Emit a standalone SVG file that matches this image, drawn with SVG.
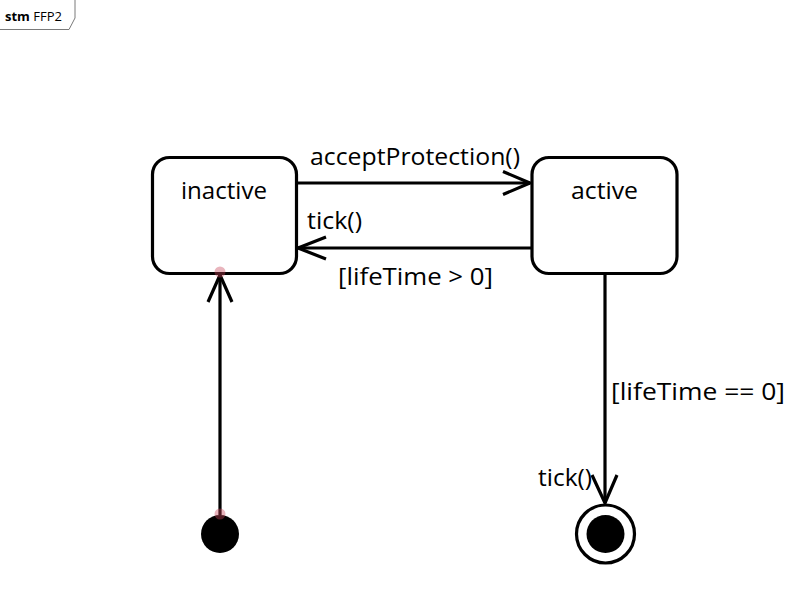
<svg xmlns="http://www.w3.org/2000/svg" width="799" height="599" viewBox="0 0 799 599">
<style>
.lbl{font-family:"Open Sans","Noto Sans","DejaVu Sans",sans-serif;font-size:24px;fill:#000}
.state{fill:#fff;stroke:#000;stroke-width:3.2}
.edge{fill:none;stroke:#000;stroke-width:3.2}
.dot{fill:rgb(200,70,90);fill-opacity:0.4}
</style>
<rect width="799" height="599" fill="#fff"/>
<g id="frame">
<path d="M0,29.5 L69,29.5 L75,18 L75,0" fill="none" stroke="#7a7a7a" stroke-width="1"/>
<text x="5" y="21" font-family="'Open Sans','Noto Sans',sans-serif" font-size="12.5" fill="#000" textLength="57" lengthAdjust="spacingAndGlyphs"><tspan font-weight="bold">stm</tspan> FFP2</text>
</g>
<g id="connectors">
<g id="e1">
<path class="edge" d="M297,183 L530,183"/>
<path class="edge" d="M503,171.5 L530,183 L503,194.5"/>
<text class="lbl" x="310" y="165" textLength="210" lengthAdjust="spacingAndGlyphs">acceptProtection()</text>
</g>
<g id="e2">
<path class="edge" d="M531,248 L298,248"/>
<path class="edge" d="M326,237 L298,248 L326,259"/>
<text class="lbl" x="307" y="229" textLength="55" lengthAdjust="spacingAndGlyphs">tick()</text>
<text class="lbl" x="338" y="285" textLength="155" lengthAdjust="spacingAndGlyphs">[lifeTime &gt; 0]</text>
</g>
<g id="e3">
<path class="edge" d="M220,515 L220,275"/>
<path class="edge" d="M208,302 L220,275 L232,302"/>
</g>
<g id="e4">
<path class="edge" d="M605,275 L605,503"/>
<path class="edge" d="M592,475 L605,503 L617,475"/>
<text class="lbl" x="611" y="400" textLength="174" lengthAdjust="spacingAndGlyphs">[lifeTime == 0]</text>
<text class="lbl" x="538" y="486" textLength="54" lengthAdjust="spacingAndGlyphs">tick()</text>
</g>
</g>
<g id="inactive">
<rect class="state" x="152.5" y="157.5" width="144" height="116" rx="17" ry="17"/>
<text class="lbl" x="224" y="199" text-anchor="middle" textLength="86" lengthAdjust="spacingAndGlyphs">inactive</text>
</g>
<g id="active">
<rect class="state" x="532" y="157.5" width="145" height="116" rx="17" ry="17"/>
<text class="lbl" x="604.5" y="199" text-anchor="middle" textLength="67" lengthAdjust="spacingAndGlyphs">active</text>
</g>
<g id="initial">
<circle cx="220" cy="534" r="19" fill="#000"/>
</g>
<g id="final">
<circle cx="605.5" cy="534" r="29" fill="#fff" stroke="#000" stroke-width="3.2"/>
<circle cx="605.5" cy="534" r="19" fill="#000"/>
</g>
<g id="markers">
<circle class="dot" cx="220" cy="272" r="5.5"/>
<circle class="dot" cx="220" cy="514" r="5.5"/>
</g>
</svg>
